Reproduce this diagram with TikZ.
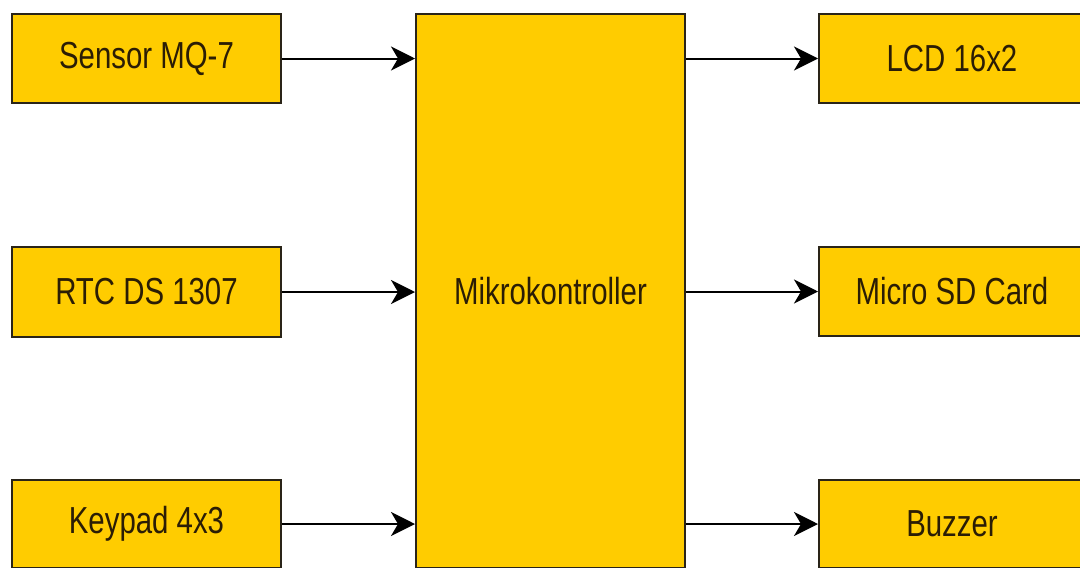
\documentclass[tikz,border=0pt]{standalone}
\usepackage{fontspec}
\setmainfont{Liberation Sans}
\usetikzlibrary{arrows.meta}
\definecolor{boxfill}{HTML}{FFCC00}
\definecolor{boxline}{HTML}{2A2418}
\definecolor{txt}{HTML}{2B1D05}
\newcommand{\blbl}[1]{\scalebox{1}[1.28]{\fontsize{29.4pt}{30pt}\selectfont #1}}
\tikzset{
  blk/.style={draw=boxline, fill=boxfill, line width=2pt, anchor=north west, inner sep=0pt, text=txt},
  conn/.style={draw=black, line width=2pt, -{Stealth[length=24pt,width=24pt,inset=7pt]}}
}
\begin{document}
\begin{tikzpicture}[x=1pt,y=-1pt]
\useasboundingbox (0,0) rectangle (1080,568);
\fill[white] (0,0) rectangle (1080,568);
\node[blk, minimum width=269pt, minimum height=89pt] (s) at (11,13) {\blbl{Sensor MQ-7}};
\node[blk, minimum width=269pt, minimum height=90pt] (r) at (11,246) {\blbl{RTC DS 1307}};
\node[blk, minimum width=269pt, minimum height=88pt] (k) at (11,479) {\blbl{Keypad 4x3}};
\node[blk, minimum width=269pt, minimum height=554pt] (m) at (415,13) {\blbl{Mikrokontroller}};
\node[blk, minimum width=266pt, minimum height=89pt] (l) at (818,13) {\blbl{LCD 16x2}};
\node[blk, minimum width=266pt, minimum height=89pt] (c) at (818,246) {\blbl{Micro SD Card}};
\node[blk, minimum width=266pt, minimum height=88pt] (b) at (818,479) {\blbl{Buzzer}};
\draw[conn] (s.east) -- (s.east -| m.west);
\draw[conn] (r.east) -- (r.east -| m.west);
\draw[conn] (k.east) -- (k.east -| m.west);
\draw[conn] (l.west -| m.east) -- (l.west);
\draw[conn] (c.west -| m.east) -- (c.west);
\draw[conn] (b.west -| m.east) -- (b.west);
\end{tikzpicture}
\end{document}
